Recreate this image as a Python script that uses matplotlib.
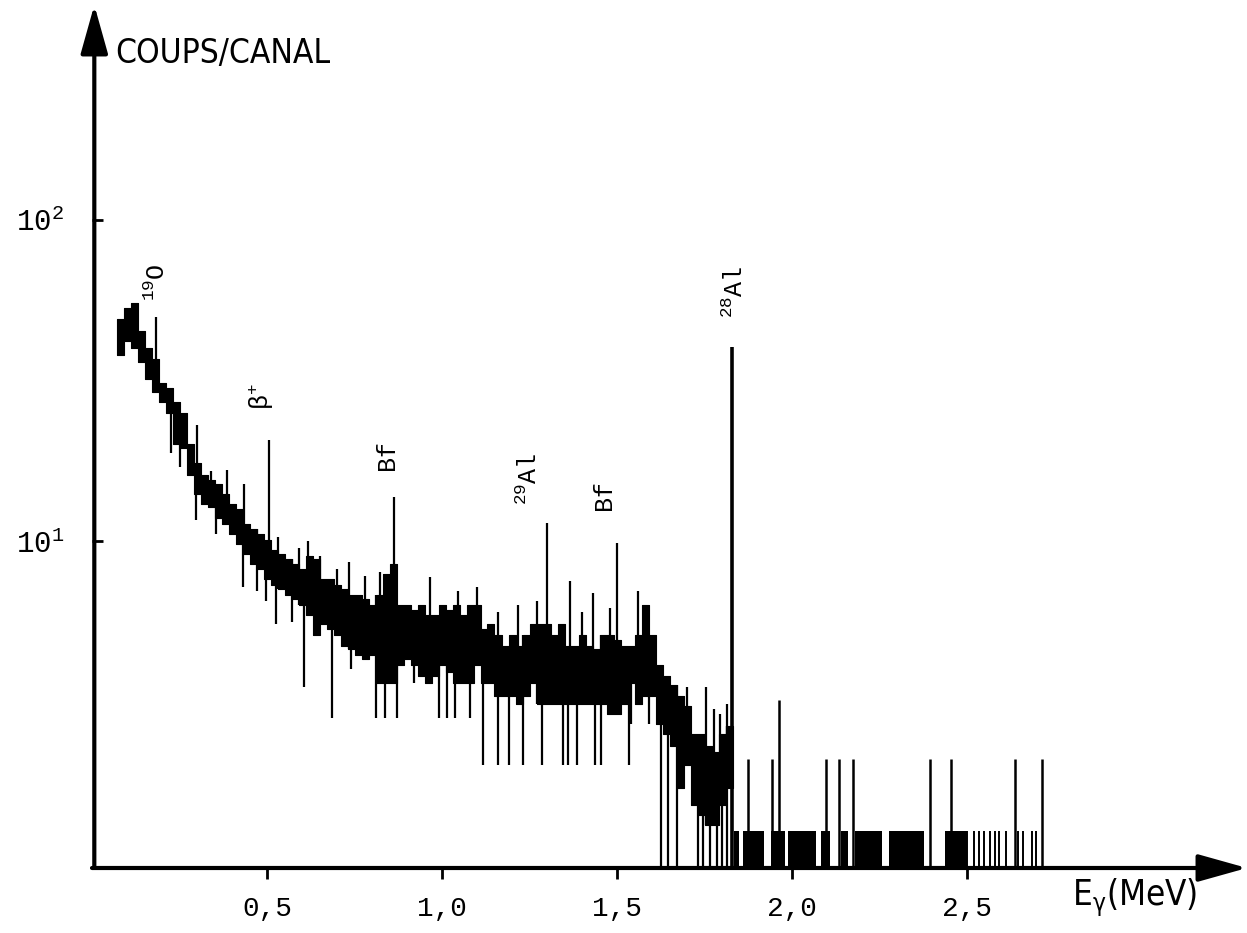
import numpy as np
import matplotlib.pyplot as plt
from matplotlib.ticker import NullLocator

# spectre gamma, canaux regroupes par pas de 0,02 MeV (0,07 -> 1,83 MeV)
e_start = 0.07
e_step = 0.02
band_hi = [49, 53, 55, 45, 40, 37, 31, 30, 27, 25,
           20, 17.5, 16, 15.5, 15, 14, 13, 12.6, 11.3, 10.9,
           10.5, 10.1, 9.4, 9.1, 8.8, 8.5, 8.2, 9.0, 8.8, 7.6,
           7.6, 7.3, 7.1, 6.8, 6.8, 6.6, 6.3, 6.8, 7.9, 8.5,
           6.3, 6.3, 6.1, 6.3, 5.9, 5.9, 6.3, 6.1, 6.3, 5.9,
           6.3, 6.3, 5.3, 5.5, 5.1, 4.7, 5.1, 4.7, 5.1, 5.5,
           5.5, 5.5, 5.1, 5.5, 4.7, 4.7, 5.1, 4.7, 4.6, 5.1,
           5.1, 4.9, 4.7, 4.7, 5.1, 6.3, 5.1, 4.1, 3.8, 3.55,
           3.3, 3.07, 2.5, 2.5, 2.3, 2.2, 2.5, 2.66]
band_lo = [38, 42, 40, 36, 32, 29, 27, 25, 20, 19.5,
           16, 14, 13, 12.8, 11.8, 11.3, 10.5, 9.8, 9.1, 8.5,
           8.2, 7.6, 7.3, 7.1, 6.8, 6.6, 6.3, 5.9, 5.1, 5.5,
           5.3, 5.1, 4.7, 4.6, 4.4, 4.3, 4.4, 3.6, 3.6, 3.6,
           4.1, 4.3, 4.1, 3.8, 3.6, 3.8, 4.1, 3.9, 3.6, 3.6,
           3.6, 4.1, 3.6, 3.6, 3.3, 3.3, 3.3, 3.1, 3.3, 3.6,
           3.1, 3.1, 3.1, 3.1, 3.1, 3.1, 3.1, 3.1, 3.1, 3.1,
           2.9, 2.9, 3.1, 3.6, 3.1, 3.3, 3.3, 2.7, 2.5, 2.3,
           1.7, 2.0, 1.5, 1.4, 1.3, 1.3, 1.5, 1.7]

# pics fins vers le haut (MeV, sommet)
up_e = [0.183, 0.265, 0.30, 0.34, 0.385, 0.435, 0.507, 0.53, 0.59, 0.617,
        0.65, 0.70, 0.735, 0.78, 0.822, 0.862, 0.966, 1.045, 1.10, 1.16,
        1.218, 1.27, 1.301, 1.366, 1.40, 1.43, 1.48, 1.50, 1.56, 1.70,
        1.755, 1.776, 1.795, 1.815]
up_top = [49.9, 22, 23, 16.5, 16.6, 15, 20.6, 10.3, 9.5, 10,
          9, 8.2, 8.6, 7.8, 8, 13.7, 7.7, 7.0, 7.2, 6.0,
          6.3, 6.5, 11.4, 7.5, 6.0, 6.9, 6.2, 9.86, 7.0, 3.5,
          3.5, 3.0, 2.9, 3.1]
# creux vers le bas (MeV, bas)
dn_e = [0.226, 0.25, 0.298, 0.355, 0.43, 0.47, 0.498, 0.527, 0.57, 0.607,
        0.685, 0.74, 0.81, 0.837, 0.871, 0.92, 0.99, 1.014, 1.037, 1.08,
        1.118, 1.16, 1.19, 1.232, 1.287, 1.345, 1.36, 1.387, 1.438, 1.453,
        1.533, 1.54, 1.59, 1.625, 1.645, 1.67, 1.73, 1.745, 1.765, 1.785,
        1.80, 1.815]
dn_bot = [18.8, 17, 11.6, 10.5, 7.2, 7.0, 6.5, 5.5, 5.6, 3.5,
          2.8, 4.0, 2.8, 2.8, 2.8, 3.6, 2.8, 2.8, 2.8, 2.8,
          2.0, 2.0, 2.0, 2.0, 2.0, 2.0, 2.0, 2.0, 2.0, 2.0,
          2.0, 2.7, 2.7, 0.9, 0.9, 0.9, 0.9, 0.9, 0.9, 0.9,
          0.9, 0.9]

# raie 28Al
al28_e = 1.828
al28_top = 40.2

# zone a faible comptage
one_start = [1.835, 1.860, 1.940, 1.989, 2.083, 2.140, 2.179, 2.278, 2.438]
one_end = [1.848, 1.920, 1.980, 2.069, 2.109, 2.159, 2.258, 2.378, 2.499]
one_level = 1.25
thin_e = [2.50, 2.52, 2.535, 2.55, 2.565, 2.58, 2.59, 2.61,
          2.647, 2.661, 2.686, 2.696]
two_e = [1.874, 1.944, 2.097, 2.135, 2.175, 2.394, 2.454, 2.636, 2.713]
two_level = 2.1
three_e = [1.964]
three_level = 3.2

x_ticks = [0.5, 1.0, 1.5, 2.0, 2.5]
x_labels = ['0,5', '1,0', '1,5', '2,0', '2,5']
y_ticks = [10, 100]
y_labels = [r'$\mathregular{10^{1}}$', r'$\mathregular{10^{2}}$']

# etiquettes des raies : texte, energie, bas du texte
peak_txt = [r'$\mathregular{^{19}O}$', r'$\mathregular{\beta^{+}}$', 'Bf',
            r'$\mathregular{^{29}Al}$', 'Bf', r'$\mathregular{^{28}Al}$']
peak_x = [0.186, 0.483, 0.843, 1.249, 1.463, 1.837]
peak_y = [56, 25.6, 16.6, 12.9, 12.5, 49.5]

mono = ['Liberation Mono', 'DejaVu Sans Mono']
floor = 0.5

fig = plt.figure(figsize=(12.47, 9.33), dpi=100)
ax = fig.add_axes([92/1247, 1-868/933, (1247-92)/1247, (868-5)/933])
ax.set_yscale('log')
ax.set_xlim(0, 3.30)
ax.set_ylim(0.958, 467)

edges = np.round(e_start + e_step*np.arange(len(band_hi)+1), 3)
hi = np.append(band_hi, band_hi[-1])
lo = np.append(band_lo, band_lo[-1])
ax.fill_between(edges, lo, hi, step='post', color='k', lw=0.8)

def band_at(e, arr):
    i = np.clip(((np.array(e) - e_start)/e_step).astype(int), 0, len(arr)-1)
    return np.array(arr)[i]

ax.vlines(up_e, band_at(up_e, band_lo), up_top, color='k', lw=1.6)
ax.vlines(dn_e, dn_bot, band_at(dn_e, band_hi), color='k', lw=1.6)
ax.vlines([al28_e], [floor], [al28_top], color='k', lw=2.6)

w = np.array(one_end) - np.array(one_start)
ax.bar(one_start, one_level - floor, width=w, bottom=floor, align='edge',
       color='k', edgecolor='none')
ax.vlines(thin_e, floor, one_level, color='k', lw=1.4)
ax.vlines(two_e, floor, two_level, color='k', lw=1.8)
ax.vlines(three_e, floor, three_level, color='k', lw=1.8)

for t, x, y in zip(peak_txt, peak_x, peak_y):
    ax.text(x, y, t, rotation=90, ha='center', va='bottom', fontsize=18,
            family=mono)

# axes en fleches
for s in ax.spines.values():
    s.set_visible(False)
arrow = dict(arrowstyle='-|>,head_length=1.5,head_width=0.42', lw=3,
             color='k', mutation_scale=20, shrinkA=0, shrinkB=0)
ax.annotate('', xy=(0.002, 1), xytext=(0.002, 0), xycoords='axes fraction',
            arrowprops=arrow)
ax.annotate('', xy=(1, 0), xytext=(0, 0), xycoords='axes fraction',
            arrowprops=arrow)

ax.set_xticks(x_ticks)
ax.set_xticklabels(x_labels, family=mono, fontsize=20)
ax.set_yticks(y_ticks)
ax.set_yticklabels(y_labels, family=mono, fontsize=21)
ax.yaxis.set_minor_locator(NullLocator())
ax.tick_params(axis='x', direction='out', length=8, width=2, pad=12)
ax.tick_params(axis='y', direction='in', length=8, width=2, pad=20)

fig.text(115/1247, 1-53/933, 'COUPS/CANAL', fontsize=24, family='DejaVu Sans',
         fontstretch='condensed', va='center', ha='left')
fig.text(1072/1247, 1-898/933, r'E$\mathregular{_{\gamma}}$(MeV)', fontsize=25,
         family='DejaVu Sans', fontstretch='condensed', va='center', ha='left')

fig.savefig('out.png', dpi=100)
